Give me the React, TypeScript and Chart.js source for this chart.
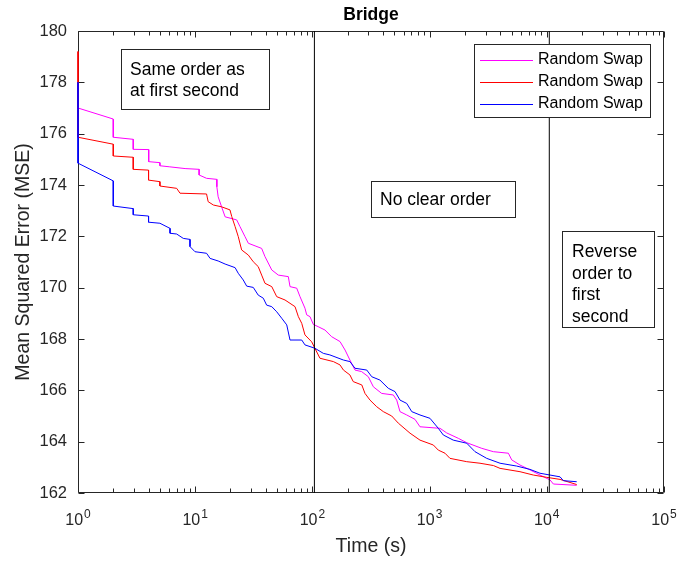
import React, { useEffect, useRef } from "react";
import { Chart, registerables } from "chart.js";

Chart.register(...registerables);

const chartTitle = "Bridge";
const xAxisTitle = "Time (s)";
const yAxisTitle = "Mean Squared Error (MSE)";

const seriesLabels = ["Random Swap", "Random Swap", "Random Swap"];
const seriesColors = ["#ff00ff", "#ff0000", "#0000ff"];

const magentaTime = [1, 1, 2, 2, 2.96, 2.96, 4.01, 4.01, 5.0, 5.0, 6.0, 8.2, 10.8, 10.8, 12.5, 15.3, 15.3, 15.7, 16.8, 18.0, 22.6, 24.1, 26.6, 28.4, 36.9, 39.4, 45.0, 51.2, 62.3, 64.4, 73.5, 78.4, 86.4, 89.4, 95.4, 101.8, 112, 128, 146, 172, 190, 209, 231, 263, 300, 331, 390, 490, 524, 559, 638, 750, 828, 1227, 1400, 1758, 2074, 2786, 3500, 4700, 5020, 5905, 7190, 8750, 10650, 11380, 18000];
const magentaMSE = [178.0, 177.0, 176.57, 175.86, 175.78, 175.39, 175.38, 174.91, 174.87, 174.75, 174.71, 174.64, 174.61, 174.39, 174.26, 174.22, 173.93, 173.54, 173.15, 172.76, 172.64, 172.38, 171.99, 171.73, 171.53, 171.21, 170.69, 170.49, 170.43, 170.04, 169.98, 169.65, 169.2, 168.94, 168.87, 168.57, 168.48, 168.35, 168.09, 167.9, 167.57, 167.18, 166.79, 166.73, 166.53, 166.14, 165.88, 165.82, 165.62, 165.17, 165.04, 164.87, 164.58, 164.52, 164.34, 164.13, 163.96, 163.74, 163.61, 163.55, 163.29, 163.09, 162.9, 162.7, 162.51, 162.35, 162.3];

const redTime = [1, 1, 2, 2, 2.96, 2.96, 4.0, 4.0, 5.0, 5.0, 6.95, 7.42, 12.5, 12.9, 14.3, 16.8, 19.8, 20.5, 21.9, 23.3, 24.9, 28.4, 31.3, 34.5, 36.9, 39.4, 45.0, 49.6, 58.4, 71.1, 75.9, 81.1, 86.4, 98.6, 105, 116, 151, 172, 184, 209, 223, 264, 281, 310, 354, 403, 475, 541, 681, 828, 1076, 1187, 1353, 1492, 2074, 2692, 3500, 3990, 5905, 7670, 9980, 12970, 18000];
const redMSE = [179.2, 175.86, 175.59, 175.13, 175.08, 174.61, 174.58, 174.19, 174.13, 173.96, 173.87, 173.68, 173.65, 173.35, 173.22, 173.15, 173.03, 172.77, 172.38, 171.99, 171.47, 171.27, 171.01, 170.82, 170.49, 170.17, 170.04, 169.65, 169.52, 169.26, 168.87, 168.61, 168.16, 167.89, 167.64, 167.25, 167.12, 166.99, 166.79, 166.6, 166.34, 166.21, 165.88, 165.62, 165.36, 165.17, 165.0, 164.72, 164.33, 164.06, 163.87, 163.67, 163.55, 163.35, 163.22, 163.16, 163.07, 162.96, 162.83, 162.7, 162.61, 162.53, 162.33];

const blueTime = [1, 1, 2, 2, 2.96, 2.96, 4.0, 4.0, 5.0, 6.1, 6.1, 6.95, 7.91, 9.03, 9.03, 9.96, 12.5, 13.4, 15.7, 18.0, 21.9, 23.3, 25.7, 27.5, 31.3, 34.5, 38.1, 40.7, 45.0, 49.6, 54.7, 60.4, 64.4, 81.1, 86.4, 105, 124, 141, 184, 209, 231, 291, 321, 377, 444, 507, 559, 638, 704, 828, 1007, 1187, 1309, 1592, 2074, 2440, 3070, 3990, 5530, 7190, 8750, 10650, 12970, 13840, 18000];
const blueMSE = [178.0, 174.85, 174.16, 173.18, 173.08, 172.84, 172.79, 172.55, 172.51, 172.31, 172.12, 172.09, 171.92, 171.88, 171.6, 171.4, 171.34, 171.14, 171.04, 170.92, 170.78, 170.56, 170.3, 170.06, 170.01, 169.71, 169.59, 169.32, 169.26, 169.06, 168.81, 168.55, 167.96, 167.96, 167.77, 167.64, 167.44, 167.38, 167.18, 167.12, 166.86, 166.79, 166.53, 166.4, 166.08, 165.95, 165.62, 165.49, 165.17, 165.04, 164.91, 164.52, 164.26, 164.06, 163.94, 163.61, 163.35, 163.16, 163.05, 162.92, 162.77, 162.7, 162.63, 162.48, 162.44];

const dividerTimes = [104, 10500];
const yMin = 162;
const yMax = 180;
const yTickValues = [162, 164, 166, 168, 170, 172, 174, 176, 178, 180];
const xTickExponents = [0, 1, 2, 3, 4, 5];

const noteSame = ["Same order as", "at first second"];
const noteNone = ["No clear order"];
const noteReverse = ["Reverse", "order to", "first", "second"];

const FONT = "'Liberation Sans', Arial, Helvetica, sans-serif";
const AXIS_COLOR = "#262626";

function zip(ts: number[], vs: number[]) {
  return ts.map((t, i) => ({ x: t, y: vs[i] }));
}

const decorPlugin = {
  id: "matlabDecor",
  beforeDatasetsDraw(chart: any) {
    const { ctx, chartArea: a, scales } = chart;
    const xs = scales.x;
    const ys = scales.y;
    const L = Math.round(a.left) + 0.5;
    const R = Math.round(a.right) - 0.5;
    const T = Math.round(a.top) + 0.5;
    const B = Math.round(a.bottom) - 0.5;
    ctx.save();
    ctx.strokeStyle = AXIS_COLOR;
    ctx.lineWidth = 1;
    ctx.beginPath();
    ctx.rect(L, T, R - L, B - T);
    ctx.stroke();

    ctx.beginPath();
    yTickValues.forEach((v) => {
      const y = Math.round(ys.getPixelForValue(v)) + 0.5;
      ctx.moveTo(L, y);
      ctx.lineTo(L + 6, y);
      ctx.moveTo(R, y);
      ctx.lineTo(R - 6, y);
    });
    xTickExponents.forEach((k) => {
      const major = Math.pow(10, k);
      const x = Math.round(xs.getPixelForValue(major)) + 0.5;
      ctx.moveTo(x, B);
      ctx.lineTo(x, B - 6);
      ctx.moveTo(x, T);
      ctx.lineTo(x, T + 6);
      if (k < 5) {
        for (let m = 2; m <= 9; m++) {
          const xm = Math.round(xs.getPixelForValue(m * major)) + 0.5;
          ctx.moveTo(xm, B);
          ctx.lineTo(xm, B - 4);
          ctx.moveTo(xm, T);
          ctx.lineTo(xm, T + 4);
        }
      }
    });
    ctx.stroke();
    ctx.restore();
  },
  afterDatasetsDraw(chart: any) {
    const { ctx, chartArea: a, scales } = chart;
    const xs = scales.x;
    const ys = scales.y;
    ctx.save();

    // y tick labels
    ctx.fillStyle = AXIS_COLOR;
    ctx.font = `16.5px ${FONT}`;
    ctx.textAlign = "right";
    ctx.textBaseline = "middle";
    yTickValues.forEach((v) => {
      ctx.fillText(String(v), a.left - 11, ys.getPixelForValue(v));
    });

    // x tick labels 10^k
    ctx.textBaseline = "alphabetic";
    ctx.textAlign = "left";
    xTickExponents.forEach((k) => {
      const x = xs.getPixelForValue(Math.pow(10, k));
      ctx.font = `16px ${FONT}`;
      const wb = ctx.measureText("10").width;
      ctx.font = `12px ${FONT}`;
      const we = ctx.measureText(String(k)).width;
      const total = wb + 1 + we;
      const x0 = x - total / 2;
      ctx.font = `16px ${FONT}`;
      ctx.fillText("10", x0, 525);
      ctx.font = `12px ${FONT}`;
      ctx.fillText(String(k), x0 + wb + 1, 518);
    });

    // axis titles
    ctx.fillStyle = AXIS_COLOR;
    ctx.font = `19.5px ${FONT}`;
    ctx.textAlign = "center";
    ctx.fillText(xAxisTitle, (a.left + a.right) / 2, 552);
    ctx.save();
    ctx.translate(29, (a.top + a.bottom) / 2);
    ctx.rotate(-Math.PI / 2);
    ctx.fillText(yAxisTitle, 0, 0);
    ctx.restore();

    // title
    ctx.fillStyle = "#000";
    ctx.font = `bold 17.5px ${FONT}`;
    ctx.fillText(chartTitle, (a.left + a.right) / 2, 20);

    // annotation boxes
    const drawNote = (lines: string[], x: number, y: number, w: number, h: number, tx: number, ty0: number, dy: number) => {
      ctx.fillStyle = "#fff";
      ctx.fillRect(x, y, w, h);
      ctx.strokeStyle = AXIS_COLOR;
      ctx.lineWidth = 1;
      ctx.strokeRect(x + 0.5, y + 0.5, w, h);
      ctx.fillStyle = "#000";
      ctx.font = `17.5px ${FONT}`;
      ctx.textAlign = "left";
      ctx.textBaseline = "middle";
      lines.forEach((s, i) => ctx.fillText(s, tx, ty0 + i * dy));
    };
    drawNote(noteSame, 121, 49, 148, 60, 130, 70, 21.5);
    drawNote(noteNone, 371, 181, 144, 36, 380, 200, 21.5);
    drawNote(noteReverse, 562, 231, 92, 96, 572, 252, 21.8);

    // legend
    const lx = 474, ly = 44, lw = 176, lh = 73;
    ctx.fillStyle = "#fff";
    ctx.fillRect(lx, ly, lw, lh);
    ctx.strokeStyle = AXIS_COLOR;
    ctx.strokeRect(lx + 0.5, ly + 0.5, lw, lh);
    const rows = [59.5, 82, 104];
    chart.data.datasets.slice(0, 3).forEach((ds: any, i: number) => {
      const y = rows[i];
      ctx.strokeStyle = ds.borderColor;
      ctx.lineWidth = 1;
      ctx.beginPath();
      ctx.moveTo(480, Math.round(y) + 0.5);
      ctx.lineTo(533, Math.round(y) + 0.5);
      ctx.stroke();
      ctx.fillStyle = "#000";
      ctx.font = `16px ${FONT}`;
      ctx.textAlign = "left";
      ctx.textBaseline = "middle";
      ctx.fillText(ds.label, 538, y);
    });

    ctx.restore();
  },
};

export default function App() {
  const canvasRef = useRef<HTMLCanvasElement | null>(null);

  useEffect(() => {
    document.body.style.margin = "0";
    const canvas = canvasRef.current;
    if (!canvas) return;
    const seriesData = [zip(magentaTime, magentaMSE), zip(redTime, redMSE), zip(blueTime, blueMSE)];
    const datasets: any[] = seriesData.map((d, i) => ({
      label: seriesLabels[i],
      data: d,
      borderColor: seriesColors[i],
      backgroundColor: seriesColors[i],
      borderWidth: 1,
      pointRadius: 0,
      tension: 0,
      fill: false,
      clip: 1,
      order: 3 - i,
    }));
    dividerTimes.forEach((t) => {
      datasets.push({
        label: "divider",
        data: [
          { x: t, y: yMin },
          { x: t, y: yMax },
        ],
        borderColor: "#000",
        borderWidth: 1,
        pointRadius: 0,
        fill: false,
        order: 0,
      });
    });
    const chart = new Chart(canvas, {
      type: "line",
      data: { datasets },
      options: {
        animation: false,
        responsive: false,
        devicePixelRatio: 1,
        layout: { padding: { left: 78, right: 18, top: 31, bottom: 68 } },
        plugins: { legend: { display: false }, tooltip: { enabled: false }, title: { display: false } },
        scales: {
          x: { type: "logarithmic", min: 1, max: 100000, display: false },
          y: { type: "linear", min: yMin, max: yMax, display: false },
        },
      },
      plugins: [decorPlugin],
    });
    return () => chart.destroy();
  }, []);

  return (
    <div style={{ width: 682, height: 561, background: "#fff" }}>
      <canvas ref={canvasRef} width={682} height={561} style={{ display: "block" }} />
    </div>
  );
}
